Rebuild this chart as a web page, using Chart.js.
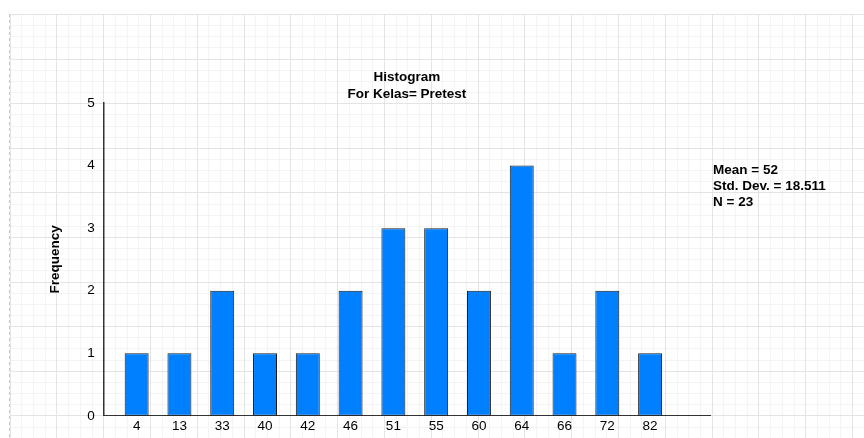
<!DOCTYPE html>
<html>
<head>
<meta charset="utf-8">
<script src="https://cdn.jsdelivr.net/npm/chart.js@4"></script>
<style>
  html, body { margin: 0; padding: 0; background: #fff; }
  #wrap { width: 864px; height: 438px; }
</style>
</head>
<body>
<div id="wrap"><canvas id="histo" width="864" height="438"></canvas></div>
<script>
// bins shown on the x axis and how many cases fall in each
const bins = ['4', '13', '33', '40', '42', '46', '51', '55', '60', '64', '66', '72', '82'];
const frequency = [1, 1, 2, 1, 1, 2, 3, 3, 2, 4, 1, 2, 1];
const yTicks = [0, 1, 2, 3, 4, 5];
const titleLines = ['Histogram', 'For Kelas= Pretest'];
const statsLines = ['Mean = 52', 'Std. Dev. = 18.511', 'N = 23'];

const FONT = '"Liberation Sans", Arial, sans-serif';
const FSIZE = 13.5;

// graph paper behind the whole chart
const paperGrid = {
    id: 'paperGrid',
    beforeDraw(chart) {
        const ctx = chart.ctx;
        const W = chart.width, H = chart.height;
        const x0 = 9.6, y0 = 14, dx = 46.8, dy = 44.6;
        ctx.save();
        ctx.fillStyle = '#fff';
        ctx.fillRect(0, 0, W, H);
        ctx.lineWidth = 1;
        // minor lines
        ctx.strokeStyle = '#f4f4f4';
        ctx.beginPath();
        for (let x = x0; x < W; x += dx / 4) {
            ctx.moveTo(Math.round(x) + 0.5, y0); ctx.lineTo(Math.round(x) + 0.5, H);
        }
        for (let y = y0; y < H; y += dy / 4) {
            ctx.moveTo(x0, Math.round(y) + 0.5); ctx.lineTo(W, Math.round(y) + 0.5);
        }
        ctx.stroke();
        // major lines
        ctx.strokeStyle = '#e4e4e4';
        ctx.beginPath();
        for (let x = x0; x < W; x += dx) {
            ctx.moveTo(Math.round(x) + 0.5, y0); ctx.lineTo(Math.round(x) + 0.5, H);
        }
        for (let y = y0; y < H; y += dy) {
            ctx.moveTo(x0, Math.round(y) + 0.5); ctx.lineTo(W, Math.round(y) + 0.5);
        }
        ctx.stroke();
        // dashed left edge
        ctx.strokeStyle = '#c8c8c8';
        ctx.setLineDash([3, 3]);
        ctx.beginPath();
        ctx.moveTo(9.5, y0); ctx.lineTo(9.5, H);
        ctx.stroke();
        ctx.restore();
    }
};

// Mean / Std. Dev. / N text right of the plot
const statsBox = {
    id: 'statsBox',
    afterDraw(chart) {
        const ctx = chart.ctx;
        const area = chart.chartArea;
        ctx.save();
        ctx.font = 'bold ' + FSIZE + 'px ' + FONT;
        ctx.fillStyle = '#000';
        ctx.textAlign = 'left';
        ctx.textBaseline = 'middle';
        statsLines.forEach((t, i) => {
            ctx.fillText(t, area.right + 3, area.top + 67 + i * 16);
        });
        ctx.restore();
    }
};

new Chart(document.getElementById('histo'), {
    type: 'bar',
    data: {
        datasets: [{
            label: 'Frequency',
            data: frequency.map((v, i) => ({ x: i, y: v })),
            backgroundColor: '#0080ff',
            borderColor: '#1a1a1a',
            borderWidth: 1,
            borderSkipped: false,
            barPercentage: 0.56,
            categoryPercentage: 1
        }]
    },
    options: {
        responsive: false,
        animation: false,
        layout: {
            padding: { left: 44, right: 154, top: 69, bottom: 2 }
        },
        plugins: {
            legend: { display: false },
            tooltip: { enabled: false },
            title: {
                display: true,
                fullSize: false,
                text: titleLines,
                color: '#000',
                font: { family: FONT, size: FSIZE, weight: 'bold', lineHeight: 1.26 },
                padding: { top: 0, bottom: 0 }
            }
        },
        scales: {
            x: {
                type: 'linear',
                offset: false,
                min: -0.77,
                max: 13.4,
                grid: { display: false, drawTicks: false },
                border: { display: true, color: '#333', width: 1 },
                afterBuildTicks: (axis) => {
                    axis.ticks = bins.map((b, i) => ({ value: i }));
                },
                ticks: {
                    padding: 2,
                    color: '#000',
                    autoSkip: false,
                    maxRotation: 0,
                    font: { family: FONT, size: FSIZE },
                    callback: (v) => bins[v]
                }
            },
            y: {
                min: 0,
                max: 5,
                afterBuildTicks: (axis) => {
                    axis.ticks = yTicks.map(v => ({ value: v }));
                },
                grid: { display: false, drawTicks: false },
                border: { display: true, color: '#333', width: 1.5 },
                ticks: {
                    padding: 9,
                    color: '#000',
                    font: { family: FONT, size: FSIZE }
                },
                title: {
                    display: true,
                    text: 'Frequency',
                    color: '#000',
                    font: { family: FONT, size: FSIZE, weight: 'bold' },
                    padding: { top: 3, bottom: 15 }
                }
            }
        }
    },
    plugins: [paperGrid, statsBox]
});
</script>
</body>
</html>
